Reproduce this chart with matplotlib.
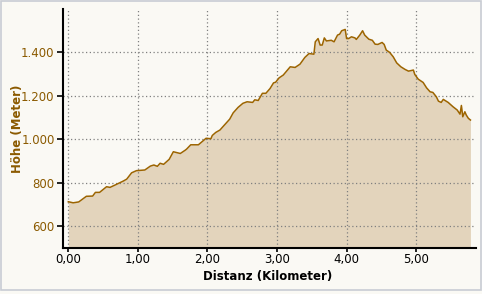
import matplotlib
matplotlib.use('Agg')
import matplotlib.pyplot as plt
from matplotlib.ticker import FuncFormatter
from matplotlib.patches import Rectangle

# Höhenprofil
distanz_km = [0.00, 0.07, 0.15, 0.26, 0.35, 0.39, 0.45, 0.55, 0.60, 0.68, 0.79, 0.84,
              0.91, 0.98, 1.10, 1.18, 1.23, 1.28, 1.32, 1.37, 1.45, 1.51, 1.61, 1.68,
              1.70, 1.76, 1.87, 1.94, 1.98, 2.05, 2.07, 2.12, 2.18, 2.23, 2.32, 2.37,
              2.44, 2.51, 2.57, 2.65, 2.68, 2.73, 2.79, 2.84, 2.90, 2.95, 2.98, 3.03,
              3.09, 3.19, 3.26, 3.33, 3.40, 3.46, 3.53, 3.55, 3.59, 3.62, 3.65, 3.68,
              3.71, 3.78, 3.82, 3.87, 3.90, 3.93, 3.98, 4.00, 4.03, 4.07, 4.12, 4.14,
              4.19, 4.23, 4.26, 4.32, 4.37, 4.41, 4.45, 4.51, 4.54, 4.57, 4.62, 4.67,
              4.72, 4.78, 4.84, 4.89, 4.96, 4.98, 5.03, 5.10, 5.15, 5.20, 5.24, 5.29,
              5.32, 5.36, 5.39, 5.46, 5.53, 5.59, 5.63, 5.65, 5.67, 5.70, 5.72, 5.75,
              5.78]
hoehe_m = [713, 708, 712, 738, 739, 756, 756, 782, 779, 791, 808, 817,
           846, 856, 859, 877, 882, 876, 890, 885, 908, 943, 935, 950,
           955, 975, 975, 994, 1005, 1003, 1018, 1032, 1043, 1061, 1093, 1122,
           1147, 1166, 1173, 1170, 1182, 1179, 1212, 1212, 1234, 1260, 1263, 1283,
           1296, 1334, 1331, 1346, 1377, 1395, 1392, 1449, 1464, 1434, 1434, 1467,
           1453, 1456, 1449, 1480, 1484, 1500, 1506, 1464, 1464, 1472, 1467, 1460,
           1480, 1500, 1480, 1461, 1456, 1438, 1437, 1446, 1437, 1411, 1400, 1380,
           1352, 1334, 1322, 1314, 1319, 1299, 1277, 1262, 1237, 1219, 1216, 1196,
           1176, 1170, 1184, 1170, 1150, 1135, 1116, 1156, 1104, 1127, 1112, 1097,
           1089]

x_ticks = [0, 1, 2, 3, 4, 5]
y_ticks = [600, 800, 1000, 1200, 1400]

bg = '#faf9f4'
braun = '#8b5a00'

fig = plt.figure(figsize=(4.82, 2.94), dpi=100, facecolor=bg)
ax = fig.add_axes([63 / 482, 46 / 294, 413 / 482, 239 / 294])
ax.set_facecolor(bg)

ax.fill_between(distanz_km, hoehe_m, 500, color='#e3d4bc', linewidth=0, zorder=1)
ax.plot(distanz_km, hoehe_m, color='#9c6400', linewidth=1.1, zorder=3)

ax.set_xlim(-0.076, 5.86)
ax.set_ylim(500, 1600)
ax.set_xticks(x_ticks)
ax.set_yticks(y_ticks)
ax.xaxis.set_major_formatter(FuncFormatter(lambda v, p: f'{v:.2f}'.replace('.', ',')))
ax.yaxis.set_major_formatter(FuncFormatter(lambda v, p: f'{int(v):,}'.replace(',', '.')))

ax.grid(True, color='#808080', linestyle=(0, (1, 2)), linewidth=0.9, zorder=2)
ax.set_axisbelow(False)

for s in ['top', 'right']:
    ax.spines[s].set_visible(False)
for s in ['left', 'bottom']:
    ax.spines[s].set_linewidth(1.5)
    ax.spines[s].set_color('black')
    ax.spines[s].set_zorder(4)

ax.tick_params(axis='y', colors='black', labelcolor=braun, labelsize=8.5, length=4, width=1.2, pad=2)
ax.tick_params(axis='x', colors='black', labelcolor='black', labelsize=8.5, length=3, width=1.2, pad=0.5)

ax.set_xlabel('Distanz (Kilometer)', fontsize=8.5, fontweight='bold', color='black')
ax.set_ylabel('Höhe (Meter)', fontsize=8.5, fontweight='bold', color=braun)
ax.xaxis.set_label_coords(0.496, -0.092)
ax.yaxis.set_label_coords(-0.095, 0.5)

# Rahmen
fig.patches.append(Rectangle((0.003, 0.012), 0.994, 0.985, transform=fig.transFigure,
                             fill=False, edgecolor='#c8ccd4', linewidth=1.2))

plt.savefig('out.png', dpi=100, facecolor=bg)
plt.close()
